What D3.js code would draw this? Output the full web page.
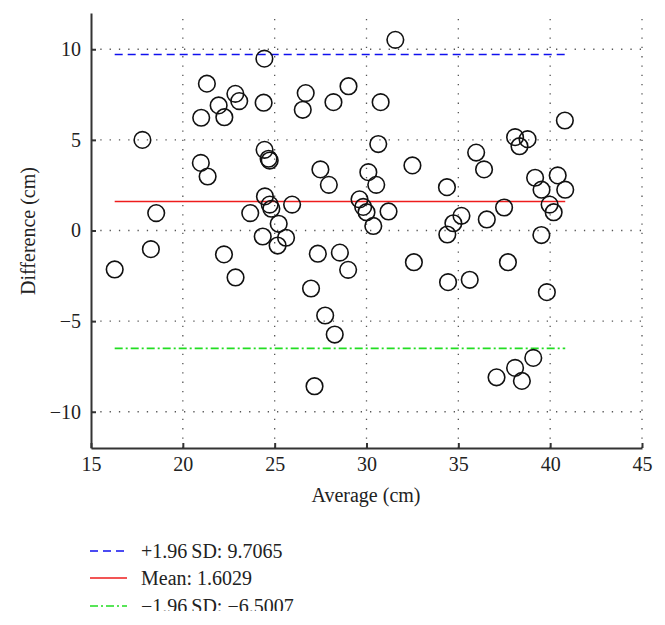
<!DOCTYPE html>
<html>
<head>
<meta charset="utf-8">
<script src="https://cdn.jsdelivr.net/npm/d3@7"></script>
<style>
  body { margin: 0; background: #fff; }
  svg { display: block; font-family: 'Liberation Serif', 'DejaVu Serif', serif; }
</style>
</head>
<body>
<script>
// averages (cm)
const averages = [
  16.29, 17.80, 18.26, 18.55, 20.98, 21.00, 21.31, 21.35, 21.95, 22.24,
  22.26, 22.86, 22.87, 23.07, 23.67, 24.35, 24.40, 24.44, 24.45, 24.47,
  24.67, 24.73, 24.73, 24.82, 25.16, 25.22, 25.62, 25.95, 26.53, 26.69,
  26.98, 27.17, 27.35, 27.49, 27.75, 27.95, 28.20, 28.27, 28.55, 29.02,
  29.00, 29.62, 29.82, 30.00, 30.10, 30.37, 30.53, 30.64, 30.77, 31.20,
  31.57, 32.50, 32.58, 34.38, 34.40, 34.44, 34.73, 35.17, 35.62, 35.97,
  36.40, 36.55, 37.08, 37.49, 37.70, 38.09, 38.09, 38.33, 38.46, 38.77,
  39.08, 39.18, 39.52, 39.53, 39.82, 39.97, 40.19, 40.41, 40.80, 40.82
];
// differences (cm)
const differences = [
  -2.15, 5.00, -1.03, 0.96, 3.73, 6.22, 8.10, 2.98, 6.90, -1.32,
  6.25, 7.54, -2.59, 7.14, 0.96, -0.33, 7.05, 9.48, 4.45, 1.88,
  3.96, 3.86, 1.43, 1.20, -0.83, 0.37, -0.40, 1.43, 6.66, 7.58,
  -3.20, -8.59, -1.28, 3.37, -4.69, 2.52, 7.08, -5.74, -1.22, 7.96,
  -2.17, 1.72, 1.30, 1.01, 3.22, 0.25, 2.52, 4.77, 7.08, 1.05,
  10.52, 3.59, -1.75, 2.39, -0.22, -2.85, 0.40, 0.81, -2.72, 4.30,
  3.37, 0.61, -8.10, 1.27, -1.75, 5.15, -7.58, 4.65, -8.30, 5.04,
  -7.03, 2.91, -0.25, 2.25, -3.40, 1.43, 1.01, 3.04, 6.07, 2.25
];

const xTicks = [15, 20, 25, 30, 35, 40, 45];
const yTicks = [-10, -5, 0, 5, 10];

const refNames = ['+1.96 SD', 'Mean', '\u22121.96 SD'];
const refValues = [9.7065, 1.6029, -6.5007];
const refLabels = ['+1.96\u2009SD: 9.7065', 'Mean: 1.6029', '\u22121.96\u2009SD: \u22126.5007'];
const refColors = ['#1010ee', '#ee1c1c', '#22dd22'];
const refDash = ['8,5', null, '8,3,2,3'];

const width = 665;
const height = 625;

const svg = d3.select('body')
  .append('svg')
  .attr('width', width)
  .attr('height', height);

svg.append('rect')
  .attr('width', width)
  .attr('height', height)
  .attr('fill', '#fff');

const xScale = d3.scaleLinear().domain([15, 45]).range([91, 642]);
const yScale = d3.scaleLinear().domain([-12, 12]).range([448, 13]);

// GRID
const grid = svg.append('g').attr('class', 'grid');
grid.selectAll('line.vx')
  .data(xTicks.filter(d => d > 15))
  .enter()
  .append('line')
  .attr('x1', d => xScale(d))
  .attr('x2', d => xScale(d))
  .attr('y1', yScale(-12))
  .attr('y2', yScale(12))
  .attr('stroke', '#555')
  .attr('stroke-width', 1.3)
  .attr('stroke-dasharray', '1.3,8');
grid.selectAll('line.hy')
  .data(yTicks)
  .enter()
  .append('line')
  .attr('x1', xScale(15))
  .attr('x2', xScale(45))
  .attr('y1', d => yScale(d))
  .attr('y2', d => yScale(d))
  .attr('stroke', '#555')
  .attr('stroke-width', 1.3)
  .attr('stroke-dasharray', '1.3,8');

// REFERENCE LINES
const xExt = d3.extent(averages);
svg.selectAll('line.ref')
  .data(refValues)
  .enter()
  .append('line')
  .attr('class', 'ref')
  .attr('x1', xScale(xExt[0]))
  .attr('x2', xScale(xExt[1]))
  .attr('y1', d => yScale(d))
  .attr('y2', d => yScale(d))
  .attr('stroke', (d, i) => refColors[i])
  .attr('stroke-width', 1.6)
  .attr('stroke-dasharray', (d, i) => refDash[i]);

// POINTS
svg.append('g')
  .selectAll('circle')
  .data(averages)
  .enter()
  .append('circle')
  .attr('cx', d => xScale(d))
  .attr('cy', (d, i) => yScale(differences[i]))
  .attr('r', 8.3)
  .attr('fill', 'none')
  .attr('stroke', '#111')
  .attr('stroke-width', 1.6);

// AXES
const xAxis = d3.axisBottom(xScale)
  .tickValues(xTicks)
  .tickSizeInner(-5)
  .tickSizeOuter(0)
  .tickPadding(9);
const gx = svg.append('g')
  .attr('transform', `translate(0, ${yScale(-12)})`)
  .call(xAxis);

const yAxis = d3.axisLeft(yScale)
  .tickValues(yTicks)
  .tickSizeInner(-5)
  .tickSizeOuter(0)
  .tickPadding(10)
  .tickFormat(d => d < 0 ? '\u2212' + Math.abs(d) : d);
const gy = svg.append('g')
  .attr('transform', `translate(${xScale(15)}, 0)`)
  .call(yAxis);

[gx, gy].forEach(g => {
  g.attr('font-family', "'Liberation Serif', 'DejaVu Serif', serif")
    .attr('font-size', 20);
  g.select('.domain').attr('stroke', '#333').attr('stroke-width', 2);
  g.selectAll('.tick line').attr('stroke', '#333').attr('stroke-width', 2);
  g.selectAll('.tick text').attr('fill', '#222');
});

// AXIS TITLES
svg.append('text')
  .attr('x', 366)
  .attr('y', 502)
  .attr('text-anchor', 'middle')
  .attr('fill', '#222')
  .style('font-size', '20px')
  .text('Average (cm)');

svg.append('text')
  .attr('transform', 'translate(35, 231) rotate(-90)')
  .attr('text-anchor', 'middle')
  .attr('fill', '#222')
  .style('font-size', '20px')
  .text('Difference (cm)');

// LEGEND (bottom row is cut off in the original)
svg.append('clipPath')
  .attr('id', 'legend-clip')
  .append('rect')
  .attr('x', 0)
  .attr('y', 520)
  .attr('width', width)
  .attr('height', 91);

const legend = svg.append('g').attr('clip-path', 'url(#legend-clip)');
const rowY = [551, 578, 606];

legend.selectAll('line')
  .data(refNames)
  .enter()
  .append('line')
  .attr('x1', 90)
  .attr('x2', 127)
  .attr('y1', (d, i) => rowY[i])
  .attr('y2', (d, i) => rowY[i])
  .attr('stroke', (d, i) => refColors[i])
  .attr('stroke-width', 1.4)
  .attr('stroke-dasharray', (d, i) => refDash[i]);

legend.selectAll('text')
  .data(refLabels)
  .enter()
  .append('text')
  .attr('x', 141)
  .attr('y', (d, i) => rowY[i])
  .attr('dy', '0.35em')
  .attr('fill', '#222')
  .style('font-size', '20px')
  .text(d => d);
</script>
</body>
</html>
